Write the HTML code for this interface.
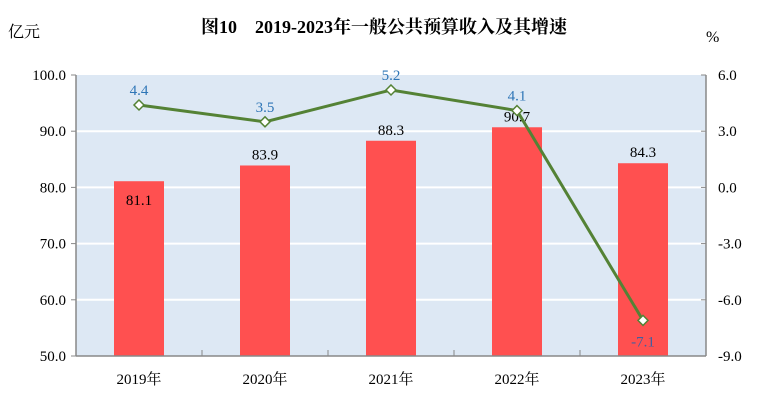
<!DOCTYPE html>
<html><head><meta charset="utf-8"><style>
body{margin:0;background:#fff;}
svg text{font-family:"Liberation Serif","Noto Serif CJK SC",serif;}
</style></head><body>
<svg id="c" width="768" height="411" xmlns="http://www.w3.org/2000/svg">
<text x="384" y="33" text-anchor="middle" font-size="18" font-weight="bold">图10　2019-2023年一般公共预算收入及其增速</text>
<text x="8" y="37" font-size="16" font-family="Liberation Sans,Noto Sans CJK SC,sans-serif">亿元</text>
<text x="706" y="42" font-size="16">%</text>
<rect x="76" y="75" width="630" height="281" fill="#dde8f4"/>
<g id="grid"></g><g id="bars"></g><g id="axes"></g><g id="line"></g>
</svg>
<script>
const categories=["2019年","2020年","2021年","2022年","2023年"];
const revenue=[81.1,83.9,88.3,90.7,84.3];
const growth=[4.4,3.5,5.2,4.1,-7.1];
const leftTicks=[50,60,70,80,90,100];
const rightTicks=[-9,-6,-3,0,3,6];
const NS="http://www.w3.org/2000/svg";
const L=76,R=706,T=75,B=356;
const yL=v=>B-(v-50)/50*(B-T);
const yR=v=>B-(v+9)/15*(B-T);
const bw=(R-L)/categories.length;
const xC=i=>L+bw*(i+0.5);
function mk(tag,attrs,parent,txt){const e=document.createElementNS(NS,tag);for(const k in attrs)e.setAttribute(k,attrs[k]);if(txt!==undefined)e.textContent=txt;document.getElementById(parent).appendChild(e);return e;}
leftTicks.forEach(v=>{
 if(v>50&&v<100){const g=mk('line',{x1:L,x2:R,y1:yL(v),y2:yL(v),stroke:'#fff','stroke-width':2},'grid');
 
 }
 const t=mk('text',{x:L-10,y:yL(v)+5,'text-anchor':'end','font-size':15},'axes',v.toFixed(1));
 
 
 const k=mk('line',{x1:L-5,x2:L,y1:yL(v),y2:yL(v),stroke:'#888'},'axes');
 
 
});
rightTicks.forEach(v=>{
 const t=mk('text',{x:R+12,y:yR(v)+5,'font-size':15},'axes',v.toFixed(1));
 
 
 const k=mk('line',{x1:R-5,x2:R,y1:yR(v),y2:yR(v),stroke:'#888'},'axes');
 
 
});
let a=mk('line',{x1:L,x2:L,y1:T,y2:B,stroke:'#888','stroke-width':1.5},'axes');


a=mk('line',{x1:R,x2:R,y1:T,y2:B,stroke:'#888','stroke-width':1.5},'axes');


a=mk('line',{x1:L,x2:R,y1:B,y2:B,stroke:'#888','stroke-width':1.5},'axes');


categories.forEach((c,i)=>{
 if(i>0){const k=mk('line',{x1:L+bw*i,x2:L+bw*i,y1:B-6,y2:B,stroke:'#888'},'axes');
 
 }
 const t=mk('text',{x:xC(i),y:B+28,'text-anchor':'middle','font-size':15},'axes',c);
 
 
 const b=mk('rect',{x:xC(i)-25,y:yL(revenue[i]),width:50,height:B-yL(revenue[i]),fill:'#ff5050'},'bars');
 
 
 const inside=i===0;
 const lb=mk('text',{x:xC(i),y:inside?yL(revenue[i])+24:yL(revenue[i])-6,'text-anchor':'middle','font-size':15},'bars',revenue[i].toFixed(1));
 
 
});
const pts=growth.map((g,i)=>xC(i)+','+yR(g)).join(' ');
const pl=mk('polyline',{points:pts,fill:'none',stroke:'#548235','stroke-width':3},'line');


growth.forEach((g,i)=>{
 const x=xC(i),y=yR(g);
 const m=mk('polygon',{points:`${x},${y-5} ${x+5},${y} ${x},${y+5} ${x-5},${y}`,fill:'#fff',stroke:'#548235','stroke-width':1.5},'line');
 
 
 const t=mk('text',{x:x,y:g<0?y+26:y-10,'text-anchor':'middle','font-size':15,fill:g<0?'#4060a0':'#2e75b6'},'line',g.toFixed(1));
 
 
});
</script>
</body></html>
